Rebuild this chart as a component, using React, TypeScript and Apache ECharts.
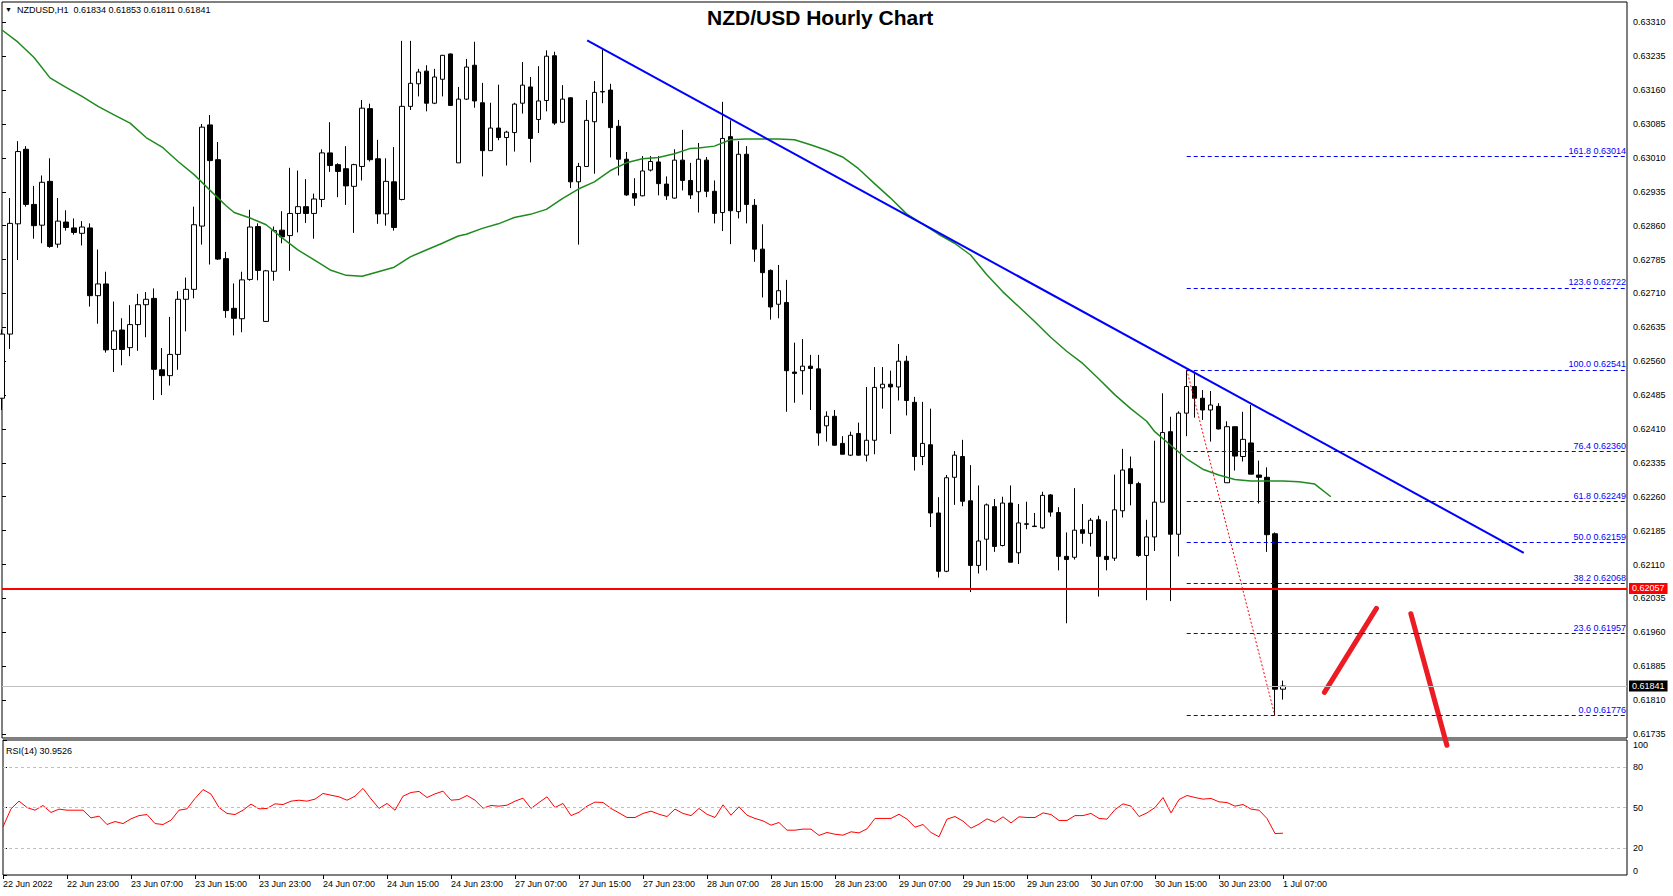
import React, { useEffect, useRef } from 'react';
import * as echarts from 'echarts';

const FONT = 'Liberation Sans, Arial, sans-serif';

// x-axis tick labels (one every 8 hourly bars, starting at bar 0 = 22 Jun 15:00)
const timeLabels = ['22 Jun 2022', '22 Jun 23:00', '23 Jun 07:00', '23 Jun 15:00', '23 Jun 23:00', '24 Jun 07:00', '24 Jun 15:00', '24 Jun 23:00', '27 Jun 07:00', '27 Jun 15:00', '27 Jun 23:00', '28 Jun 07:00', '28 Jun 15:00', '28 Jun 23:00', '29 Jun 07:00', '29 Jun 15:00', '29 Jun 23:00', '30 Jun 07:00', '30 Jun 15:00', '30 Jun 23:00', '1 Jul 07:00'];
const barsPerLabel = 8;
const totalSlots = 203; // visible bar slots incl. empty space on the right

const priceTicks = [0.61735, 0.6181, 0.61885, 0.6196, 0.62035, 0.6211, 0.62185, 0.6226, 0.62335, 0.6241, 0.62485, 0.6256, 0.62635, 0.6271, 0.62785, 0.6286, 0.62935, 0.6301, 0.63085, 0.6316, 0.63235, 0.6331];
const priceMin = 0.61726;
const priceMax = 0.63355;
const rsiTicks = [0, 20, 50, 80, 100];
const rsiLevels = [20, 50, 80];

// hourly candles: [open, high, low, close]
const ohlc: [number, number, number, number][] = [
  [0.62478, 0.6263, 0.62452, 0.6262], [0.6262, 0.62921, 0.62587, 0.62865], [0.62864, 0.63047, 0.62784, 0.63024], [0.63029, 0.63036, 0.62902, 0.62907],
  [0.62907, 0.62948, 0.62831, 0.6286], [0.62861, 0.62971, 0.62821, 0.62956], [0.62958, 0.63009, 0.62811, 0.62814], [0.62819, 0.62921, 0.62811, 0.6287],
  [0.62868, 0.62894, 0.62849, 0.62856], [0.62855, 0.62876, 0.6284, 0.62845], [0.62843, 0.6287, 0.62816, 0.62857], [0.62855, 0.62865, 0.62681, 0.62705],
  [0.62705, 0.62807, 0.62643, 0.62731], [0.62731, 0.62758, 0.62579, 0.62585], [0.62586, 0.62692, 0.62536, 0.62627], [0.62629, 0.62655, 0.62551, 0.62586],
  [0.6259, 0.62684, 0.62571, 0.62641], [0.62641, 0.62709, 0.62583, 0.62685], [0.62685, 0.62713, 0.62613, 0.62697], [0.62699, 0.62721, 0.62474, 0.62542],
  [0.62541, 0.62589, 0.62485, 0.62528], [0.62528, 0.62658, 0.62506, 0.62575], [0.62575, 0.62715, 0.62541, 0.62697], [0.62697, 0.62745, 0.62626, 0.62719],
  [0.62719, 0.62902, 0.62699, 0.62862], [0.62859, 0.63085, 0.62818, 0.63078], [0.63083, 0.63105, 0.62774, 0.63004], [0.63006, 0.63045, 0.62784, 0.62786],
  [0.62787, 0.62802, 0.62656, 0.62672], [0.62677, 0.62732, 0.62617, 0.62655], [0.62654, 0.62758, 0.62624, 0.6274], [0.62741, 0.62895, 0.62738, 0.62857],
  [0.62858, 0.62865, 0.62739, 0.62761], [0.62648, 0.62762, 0.62648, 0.6276], [0.62759, 0.62858, 0.62738, 0.62849], [0.6285, 0.62892, 0.62821, 0.62835],
  [0.62838, 0.62988, 0.6276, 0.62887], [0.62887, 0.62982, 0.62845, 0.62902], [0.62902, 0.62963, 0.62866, 0.62887], [0.62887, 0.62931, 0.62831, 0.62919],
  [0.62918, 0.63029, 0.62901, 0.63021], [0.63021, 0.63089, 0.62979, 0.62993], [0.62995, 0.62998, 0.62923, 0.6298], [0.62986, 0.63036, 0.62906, 0.62948],
  [0.62947, 0.62997, 0.62844, 0.62995], [0.62991, 0.63138, 0.6296, 0.6312], [0.63119, 0.6313, 0.63002, 0.63006], [0.63008, 0.6305, 0.62864, 0.62886],
  [0.62886, 0.63009, 0.6286, 0.62958], [0.62957, 0.63034, 0.62849, 0.62856], [0.62918, 0.63269, 0.62916, 0.63124], [0.63124, 0.63269, 0.63116, 0.63175],
  [0.63174, 0.63207, 0.63146, 0.632], [0.63202, 0.63215, 0.63113, 0.63131], [0.63131, 0.63207, 0.63129, 0.63189], [0.63184, 0.63238, 0.63146, 0.63237],
  [0.6324, 0.63241, 0.63126, 0.63126], [0.62999, 0.63167, 0.62999, 0.6314], [0.6314, 0.63229, 0.63138, 0.63211], [0.63215, 0.63267, 0.63121, 0.63136],
  [0.63132, 0.63176, 0.62969, 0.63026], [0.63026, 0.63132, 0.63026, 0.63076], [0.63076, 0.63172, 0.63049, 0.63055], [0.63055, 0.6307, 0.62993, 0.63067],
  [0.63066, 0.63132, 0.63024, 0.63129], [0.63131, 0.63222, 0.63108, 0.63171], [0.63167, 0.63189, 0.63, 0.63053], [0.63095, 0.63213, 0.63065, 0.63136],
  [0.63137, 0.63248, 0.63113, 0.63235], [0.63236, 0.63245, 0.63083, 0.63087], [0.63089, 0.63171, 0.63087, 0.6314], [0.63143, 0.63144, 0.62943, 0.62957],
  [0.62957, 0.62999, 0.62818, 0.62991], [0.62991, 0.63138, 0.62991, 0.63093], [0.6309, 0.6318, 0.62975, 0.63155], [0.63156, 0.6325, 0.63131, 0.63157],
  [0.6316, 0.63174, 0.63011, 0.63077], [0.6308, 0.63094, 0.62971, 0.63007], [0.63007, 0.63023, 0.62926, 0.62928], [0.62931, 0.62965, 0.62904, 0.62921],
  [0.62926, 0.63014, 0.62925, 0.62981], [0.62983, 0.63014, 0.6298, 0.63002], [0.63001, 0.63014, 0.62927, 0.62953], [0.62952, 0.62969, 0.62917, 0.62926],
  [0.62921, 0.63029, 0.6292, 0.63005], [0.63005, 0.63072, 0.62938, 0.6296], [0.6296, 0.62999, 0.62919, 0.62928], [0.62935, 0.63043, 0.62889, 0.63007],
  [0.63005, 0.63012, 0.62923, 0.62936], [0.62936, 0.6296, 0.62865, 0.62887], [0.62889, 0.63134, 0.62848, 0.63053], [0.63057, 0.63093, 0.62819, 0.62893],
  [0.62891, 0.63047, 0.62876, 0.63018], [0.63018, 0.63036, 0.62865, 0.62907], [0.62905, 0.62919, 0.6278, 0.62808], [0.62808, 0.62863, 0.62701, 0.62756],
  [0.62761, 0.62763, 0.62652, 0.6268], [0.62686, 0.62773, 0.62655, 0.62716], [0.6269, 0.6274, 0.62448, 0.62539], [0.62536, 0.62601, 0.62468, 0.62533],
  [0.62539, 0.62609, 0.62486, 0.62549], [0.62549, 0.62574, 0.62452, 0.62544], [0.62543, 0.62574, 0.62373, 0.62401], [0.62417, 0.62449, 0.62382, 0.62438],
  [0.62438, 0.62452, 0.62373, 0.62374], [0.62378, 0.62394, 0.62354, 0.62354], [0.62352, 0.62404, 0.6235, 0.62396], [0.624, 0.62424, 0.62351, 0.62352],
  [0.62352, 0.62503, 0.62338, 0.62385], [0.62385, 0.62547, 0.62354, 0.62502], [0.62501, 0.62547, 0.62455, 0.62509], [0.62509, 0.62539, 0.62399, 0.62503],
  [0.62503, 0.62598, 0.62473, 0.6256], [0.6256, 0.62572, 0.6244, 0.62473], [0.62469, 0.62481, 0.62318, 0.62349], [0.62349, 0.6247, 0.6233, 0.62378],
  [0.62375, 0.62455, 0.62193, 0.62224], [0.62224, 0.62259, 0.62081, 0.62095], [0.62095, 0.62308, 0.62093, 0.62302], [0.62303, 0.62361, 0.62242, 0.62352],
  [0.62349, 0.62386, 0.62239, 0.6225], [0.62251, 0.6233, 0.62049, 0.62108], [0.62108, 0.62285, 0.6209, 0.62162], [0.62166, 0.62245, 0.62097, 0.62242],
  [0.62238, 0.62255, 0.62138, 0.6215], [0.62152, 0.6226, 0.6215, 0.62246], [0.62246, 0.62285, 0.62115, 0.62115], [0.62136, 0.62244, 0.62111, 0.62202],
  [0.622, 0.62249, 0.62188, 0.62199], [0.62195, 0.62224, 0.62193, 0.62194], [0.62191, 0.62271, 0.62189, 0.62263], [0.62264, 0.62266, 0.62216, 0.62226],
  [0.62225, 0.62237, 0.62097, 0.62128], [0.62128, 0.62181, 0.6198, 0.62121], [0.62126, 0.62279, 0.62121, 0.62186], [0.62187, 0.62244, 0.62156, 0.62179],
  [0.62179, 0.62213, 0.6215, 0.62208], [0.62209, 0.62218, 0.62039, 0.62128], [0.62128, 0.62206, 0.62097, 0.62121], [0.62124, 0.62309, 0.62118, 0.62231],
  [0.62229, 0.62366, 0.62214, 0.62319], [0.62322, 0.62349, 0.62241, 0.62289], [0.62289, 0.62293, 0.62127, 0.6213], [0.6213, 0.62209, 0.62031, 0.62171],
  [0.62171, 0.62384, 0.6214, 0.62248], [0.62248, 0.62489, 0.62248, 0.62402], [0.62404, 0.62437, 0.62029, 0.62177], [0.62177, 0.62449, 0.62128, 0.62445],
  [0.62445, 0.62541, 0.62394, 0.62504], [0.62504, 0.62537, 0.62435, 0.62478], [0.62478, 0.62496, 0.6243, 0.62452], [0.62452, 0.62494, 0.62382, 0.62463],
  [0.6246, 0.62467, 0.62409, 0.6241], [0.62291, 0.62427, 0.62291, 0.62415], [0.62415, 0.62415, 0.62318, 0.6235], [0.62349, 0.62448, 0.62338, 0.62387],
  [0.62379, 0.62463, 0.6231, 0.6231], [0.62308, 0.6234, 0.62245, 0.62303], [0.62303, 0.62325, 0.62138, 0.62176], [0.62178, 0.62181, 0.61776, 0.61834],
  [0.61834, 0.61853, 0.61811, 0.61841],
];

// moving average (shifted forward), [bar, value]
const maPoints: [number, number][] = [
  [0, 0.63293], [2, 0.63266], [4, 0.63232], [6, 0.63187], [8, 0.63166], [10, 0.63146], [12, 0.63124], [14, 0.63105], [16, 0.63087], [18, 0.63055],
  [20, 0.63034], [22, 0.63002], [24, 0.62973], [26, 0.62938], [28, 0.62904], [29, 0.62889], [31, 0.62877], [33, 0.62862], [35, 0.62833], [37, 0.62806],
  [39, 0.62784], [41, 0.62762], [43, 0.6275], [45, 0.62748], [47, 0.62758], [49, 0.62768], [51, 0.62791], [53, 0.62806], [55, 0.62821], [57, 0.62837],
  [58, 0.62841], [60, 0.62854], [62, 0.62864], [64, 0.62878], [66, 0.62885], [68, 0.62896], [70, 0.6292], [72, 0.62941], [74, 0.62957], [76, 0.62982],
  [78, 0.62999], [80, 0.63008], [82, 0.63011], [84, 0.63019], [86, 0.63031], [87, 0.63032], [89, 0.63036], [91, 0.6305], [93, 0.63052], [95, 0.63052],
  [97, 0.63052], [99, 0.6305], [101, 0.63039], [103, 0.63027], [105, 0.63012], [107, 0.62986], [109, 0.62953], [111, 0.62921], [113, 0.62886], [115, 0.62864],
  [117, 0.62841], [119, 0.62821], [121, 0.62795], [123, 0.62752], [125, 0.62714], [127, 0.62681], [129, 0.62648], [131, 0.62613], [133, 0.62582], [135, 0.62555],
  [137, 0.62521], [139, 0.62486], [141, 0.62455], [143, 0.62427], [144, 0.62404], [146, 0.62374], [148, 0.62344], [150, 0.62321], [152, 0.62308], [154, 0.62298],
  [156, 0.62295], [158, 0.62295], [160, 0.62295], [162, 0.62293], [164, 0.62288], [166, 0.6226],
];

// RSI(14) per bar
const rsi = [
  35.7, 49, 54.7, 50, 48, 51.5, 46.3, 48.8, 48, 48,
  48, 42.3, 43.6, 37.4, 39.6, 38.1, 41.6, 44, 44.8, 38.1,
  37.4, 40.6, 48, 49, 56.7, 63.3, 59.9, 50, 45.6, 44.8,
  48, 52.5, 49, 49.3, 52.7, 52.2, 54.7, 55.4, 54.7, 56.2,
  60.4, 59.1, 57.9, 55.4, 58.4, 64.1, 56.4, 49.3, 53, 48,
  58.4, 61.1, 61.9, 57.4, 60.1, 62.1, 55.4, 55.9, 58.9, 55.4,
  49.5, 51.5, 51, 51.7, 54.7, 56.9, 49.3, 53.7, 57.9, 50,
  53, 44, 46.5, 51, 54, 53.7, 49.3, 46, 42.6, 42.6,
  45.6, 47.3, 45, 43.3, 48.8, 45.6, 44, 49.3, 45, 42.6,
  52, 44.3, 50.5, 44.3, 41.9, 40.1, 36.9, 38.9, 33.2, 33.2,
  34, 34, 29.3, 31.5, 30.2, 29.5, 32, 31.2, 34.2, 41.9,
  41.9, 41.9, 45, 41.4, 35.4, 37.4, 31.5, 28.3, 41.4, 43.3,
  39.9, 34.7, 37.7, 41.6, 39.1, 43.1, 38.6, 43.1, 42.6, 42.6,
  46, 44.8, 40.4, 40.4, 44, 44, 45.6, 41.9, 41.4, 48.5,
  52.7, 51, 43.3, 46, 50, 57.4, 46, 55.9, 58.9, 57.4,
  56.2, 56.7, 54.2, 53.7, 51, 52.2, 48.8, 48, 41.9, 30.7,
  30.95,
];

// annotations
const trendLine: [number, number][] = [[73.1, 0.6327], [190.1, 0.62136]];
const fibSwing: [number, number][] = [[148, 0.62541], [159, 0.61776]];
const fibStartBar = 148;
const fibLevels = ['161.8', '123.6', '100.0', '76.4', '61.8', '50.0', '38.2', '23.6', '0.0'];
const fibPrices = [0.63014, 0.62722, 0.62541, 0.6236, 0.62249, 0.62159, 0.62068, 0.61957, 0.61776];
const supportLevel = 0.62057;
const lastPrice = 0.61841;
const arrowUp: [number, number][] = [[165.2, 0.61827], [171.7, 0.62013]];
const arrowDown: [number, number][] = [[176.0, 0.62001], [180.5, 0.6171]];

const tickBars = timeLabels.map((_, i) => i * barsPerLabel);

function buildOption(): any {
  const small = { fontFamily: FONT, fontSize: 9, color: '#000', fontWeight: 'normal' };
  const fibMarks = fibPrices.map((p, k) => [
    {
      coord: [fibStartBar, p],
      lineStyle: { color: '#0000ff', width: 1, type: [4, 3] },
      label: {
        show: true,
        position: 'insideEndTop',
        distance: 1,
        formatter: `${fibLevels[k]} ${p.toFixed(5)}`,
        color: '#0000ff',
        fontFamily: FONT,
        fontSize: 9,
      },
    },
    { coord: [totalSlots, p] },
  ]);
  const levelLine = (p: number, lineColor: string, width: number, boxColor: string) => [
    {
      coord: [0, p],
      lineStyle: { color: lineColor, width, type: 'solid' },
      label: {
        show: true,
        position: 'end',
        distance: 2,
        formatter: p.toFixed(5),
        backgroundColor: boxColor,
        color: '#fff',
        padding: [1, 3],
        fontFamily: FONT,
        fontSize: 9,
      },
    },
    { coord: [totalSlots, p] },
  ];
  return {
    animation: false,
    backgroundColor: '#ffffff',
    title: [
      {
        text: 'NZD/USD Hourly Chart',
        left: 707,
        top: 7,
        padding: 0,
        textStyle: { fontFamily: FONT, fontSize: 21, fontWeight: 'bold', color: '#000' },
      },
      {
        text: '{t|▼}  NZDUSD,H1  0.61834 0.61853 0.61811 0.61841',
        left: 5,
        top: 5,
        padding: 0,
        textStyle: { ...small, rich: { t: { fontSize: 7, color: '#000' } } },
      },
      {
        text: 'RSI(14) 30.9526',
        left: 6,
        top: 746,
        padding: 0,
        textStyle: small,
      },
    ],
    grid: [
      { left: 2, right: 46, top: 2, height: 736, show: true, borderColor: '#000', borderWidth: 1 },
      { left: 2, right: 46, top: 740, height: 135, show: true, borderColor: '#000', borderWidth: 1 },
    ],
    xAxis: [
      { type: 'value', gridIndex: 0, min: 0, max: totalSlots, show: false },
      {
        type: 'value',
        gridIndex: 1,
        min: 0,
        max: totalSlots,
        interval: barsPerLabel,
        axisLine: { show: false },
        splitLine: { show: false },
        axisTick: { show: true, length: 4, customValues: tickBars, lineStyle: { color: '#000' } },
        axisLabel: {
          ...small,
          customValues: tickBars,
          align: 'left',
          margin: 4,
          formatter: (v: number) => timeLabels[Math.round(v / barsPerLabel)] ?? '',
        },
      },
    ],
    yAxis: [
      {
        type: 'value',
        gridIndex: 0,
        position: 'right',
        min: priceMin,
        max: priceMax,
        axisLine: { show: false },
        splitLine: { show: false },
        axisTick: { show: true, length: 4, customValues: priceTicks, lineStyle: { color: '#000' } },
        axisLabel: { ...small, customValues: priceTicks, margin: 6, formatter: (v: number) => v.toFixed(5) },
      },
      {
        type: 'value',
        gridIndex: 1,
        position: 'right',
        min: 0,
        max: 100,
        axisLine: { show: false },
        splitLine: { show: false },
        axisTick: { show: true, length: 4, customValues: rsiTicks, lineStyle: { color: '#000' } },
        axisLabel: {
          ...small,
          customValues: rsiTicks,
          margin: 6,
          verticalAlignMaxLabel: 'top',
          verticalAlignMinLabel: 'bottom',
        },
      },
    ],
    series: [
      {
        type: 'candlestick',
        xAxisIndex: 0,
        yAxisIndex: 0,
        barWidth: 5,
        encode: { x: 0, y: [1, 2, 3, 4] },
        data: ohlc.map((r, i) => [i, r[0], r[3], r[2], r[1]]),
        itemStyle: { color: '#ffffff', color0: '#000000', borderColor: '#000000', borderColor0: '#000000', borderWidth: 1 },
        emphasis: { disabled: true },
        markLine: {
          silent: true,
          symbol: ['none', 'none'],
          data: [
            levelLine(lastPrice, '#c0c0c0', 1, '#000000'),
            levelLine(supportLevel, '#ff0000', 2, '#ff0000'),
            ...fibMarks,
          ],
        },
      },
      {
        type: 'line',
        xAxisIndex: 0,
        yAxisIndex: 0,
        data: maPoints,
        showSymbol: false,
        symbol: 'none',
        lineStyle: { color: '#1f8a1f', width: 1.5 },
        emphasis: { disabled: true },
      },
      {
        type: 'line',
        xAxisIndex: 0,
        yAxisIndex: 0,
        data: trendLine,
        symbol: 'none',
        lineStyle: { color: '#0000ff', width: 2 },
        emphasis: { disabled: true },
      },
      {
        type: 'line',
        xAxisIndex: 0,
        yAxisIndex: 0,
        data: fibSwing,
        symbol: 'none',
        lineStyle: { color: '#ff0000', width: 1, type: [2, 2] },
        emphasis: { disabled: true },
      },
      {
        type: 'line',
        xAxisIndex: 0,
        yAxisIndex: 0,
        data: arrowUp,
        symbol: 'none',
        clip: false,
        lineStyle: { color: '#ec1c24', width: 5, cap: 'round' },
        emphasis: { disabled: true },
      },
      {
        type: 'line',
        xAxisIndex: 0,
        yAxisIndex: 0,
        data: arrowDown,
        symbol: 'none',
        clip: false,
        lineStyle: { color: '#ec1c24', width: 5, cap: 'round' },
        emphasis: { disabled: true },
      },
      {
        type: 'line',
        xAxisIndex: 1,
        yAxisIndex: 1,
        data: rsi.map((v, i) => [i, v]),
        symbol: 'none',
        lineStyle: { color: '#ff0000', width: 1 },
        emphasis: { disabled: true },
        markLine: {
          silent: true,
          symbol: ['none', 'none'],
          label: { show: false },
          lineStyle: { color: '#c0c0c0', width: 1, type: [3, 3] },
          data: rsiLevels.map((l) => [{ coord: [0, l] }, { coord: [totalSlots, l] }]),
        },
      },
    ],
  };
}

export default function App() {
  const ref = useRef<HTMLDivElement>(null);
  useEffect(() => {
    if (!ref.current) return;
    const chart = echarts.init(ref.current, null, { renderer: 'svg' });
    chart.setOption(buildOption());
    return () => chart.dispose();
  }, []);
  return (
    <div
      ref={ref}
      style={{ position: 'absolute', left: 0, top: 0, width: 1673, height: 896, background: '#ffffff' }}
    />
  );
}
